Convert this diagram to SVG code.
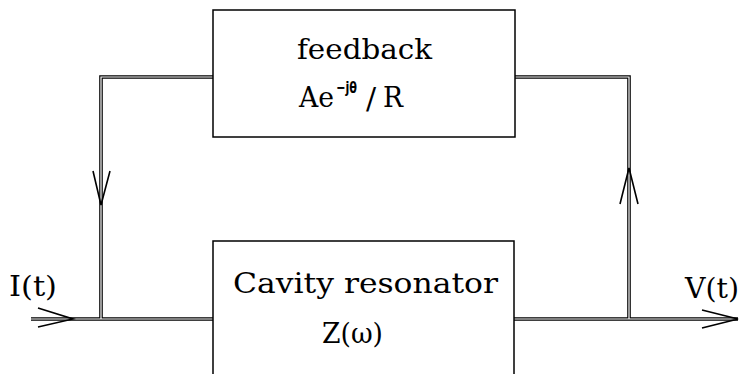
<svg xmlns="http://www.w3.org/2000/svg" width="741" height="374" viewBox="0 0 741 374">
<style>
.box{fill:#fff;stroke:#000;stroke-width:1.5}
.t{font-family:"DejaVu Serif","Liberation Serif",serif;font-size:28px;fill:#000}
.sup{font-family:"DejaVu Sans","Liberation Sans",sans-serif;font-weight:bold;font-size:16px;fill:#000}
.wo{fill:none;stroke:#000;stroke-width:3.6}
.wi{fill:none;stroke:#fff;stroke-width:1.2}
.ar{fill:none;stroke:#000;stroke-width:1.6}
</style>
<rect width="741" height="374" fill="#fff"/>
<g id="connectors">
<path class="wo" d="M31 319H213M514 319H738M213 77H101V319M515 77H629V319"/>
<path class="wi" d="M31 319H213M514 319H738M213 77H101V319M515 77H629V319"/>
<path class="ar" d="M38 308L73 319L38 327"/>
<path class="ar" d="M702 310L738 319L702 328"/>
<path class="ar" d="M93 171L101 205L110 171"/>
<path class="ar" d="M620 204L629 168L638 204"/>
</g>
<g id="feedback">
<rect class="box" x="213" y="10" width="302" height="127"/>
<text class="t" x="297" y="59" textLength="135" lengthAdjust="spacingAndGlyphs">feedback</text>
<text class="t" x="299" y="107" textLength="35" lengthAdjust="spacingAndGlyphs">Ae</text>
<text class="sup" x="336" y="93" textLength="21" lengthAdjust="spacingAndGlyphs">−jθ</text>
<text class="t" x="366" y="109" style="font-size:30px">/</text>
<text class="t" x="383" y="107" textLength="20" lengthAdjust="spacingAndGlyphs">R</text>
</g>
<g id="cavity">
<rect class="box" x="213" y="241" width="301" height="140"/>
<text class="t" x="233" y="293" textLength="265" lengthAdjust="spacingAndGlyphs">Cavity resonator</text>
<text class="t" x="322" y="343" textLength="61" lengthAdjust="spacingAndGlyphs">Z(ω)</text>
</g>
<g id="input">
<text class="t" x="9" y="296" textLength="48" lengthAdjust="spacingAndGlyphs">I(t)</text>
</g>
<g id="output">
<text class="t" x="685" y="298" textLength="54" lengthAdjust="spacingAndGlyphs">V(t)</text>
</g>
</svg>
